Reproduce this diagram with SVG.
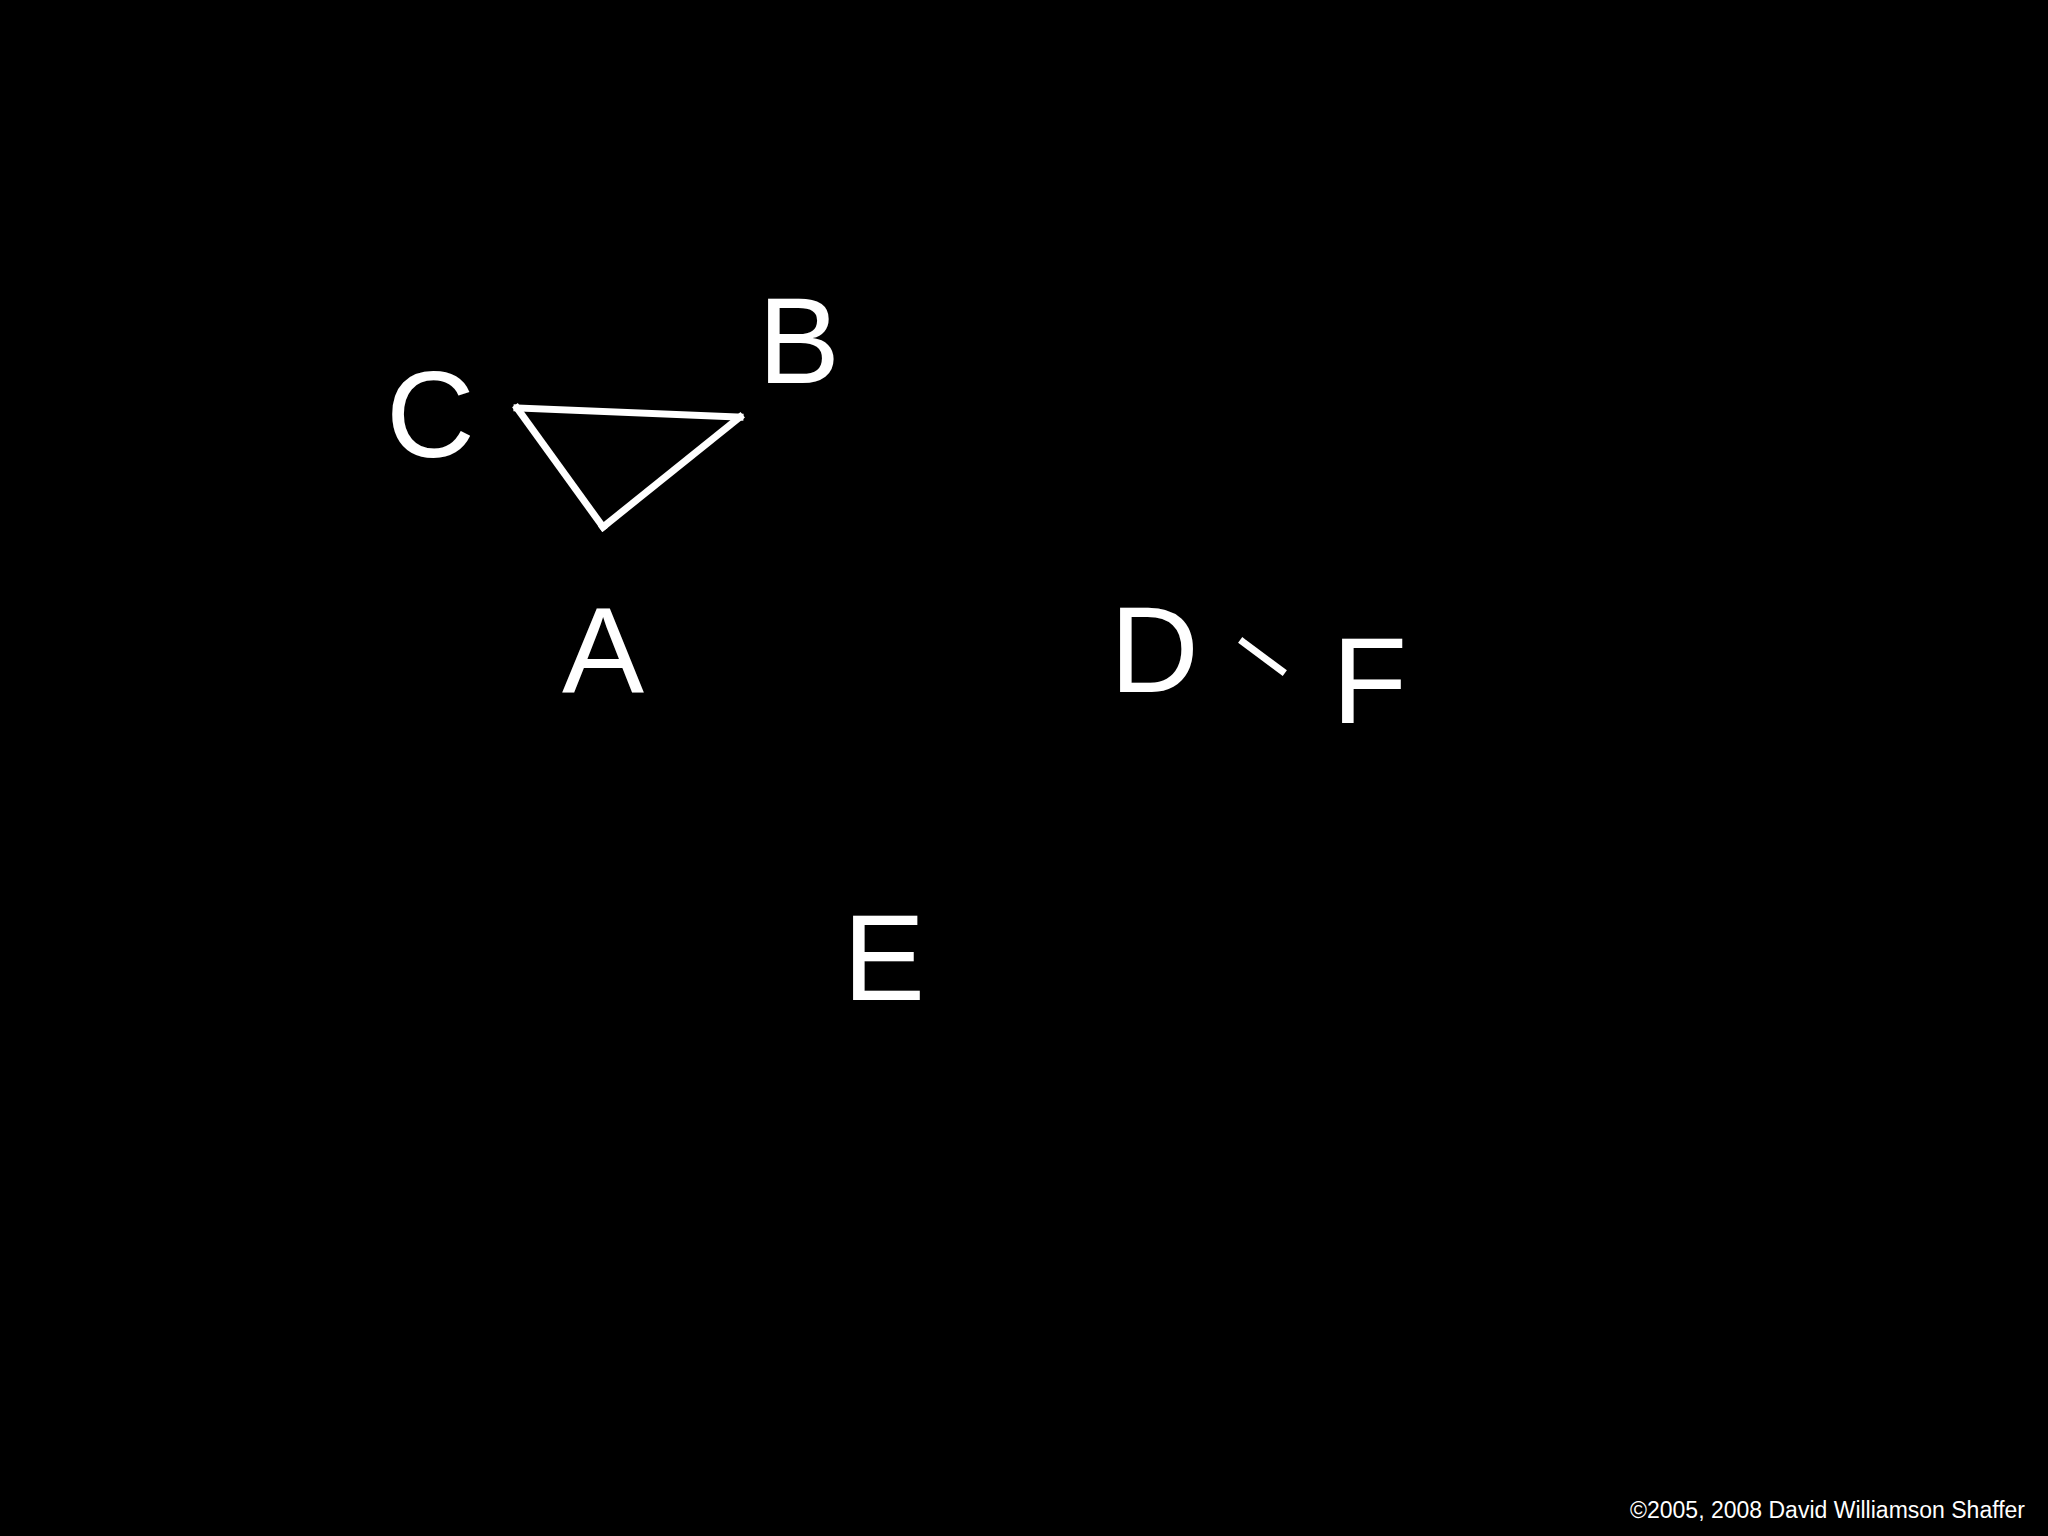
<svg xmlns="http://www.w3.org/2000/svg" width="2048" height="1536" viewBox="0 0 2048 1536">
<style>
.lbl{font-family:"Liberation Sans",Arial,sans-serif;font-size:123px;fill:#fff}
.edge{stroke:#fff;stroke-width:7;fill:none;stroke-linecap:square}
.copy{font-family:"Liberation Sans",Arial,sans-serif;font-size:23px;fill:#fff}
</style>
<rect width="2048" height="1536" fill="#000"/>
<g id="connectors">
<line class="edge" x1="517" y1="408" x2="740" y2="417"/>
<line class="edge" x1="740" y1="417" x2="603" y2="527"/>
<line class="edge" x1="603" y1="527" x2="517" y2="408"/>
<line class="edge" x1="1243" y1="642" x2="1282" y2="671"/>
</g>
<g id="node-A"><text class="lbl" x="562" y="693">A</text></g>
<g id="node-B"><text class="lbl" x="758" y="383">B</text></g>
<g id="node-C"><text class="lbl" x="386" y="457">C</text></g>
<g id="node-D"><text class="lbl" x="1110" y="692">D</text></g>
<g id="node-E"><text class="lbl" x="843" y="1000">E</text></g>
<g id="node-F"><text class="lbl" x="1332" y="723">F</text></g>
<text class="copy" x="2025" y="1518" text-anchor="end">©2005, 2008 David Williamson Shaffer</text>
</svg>
